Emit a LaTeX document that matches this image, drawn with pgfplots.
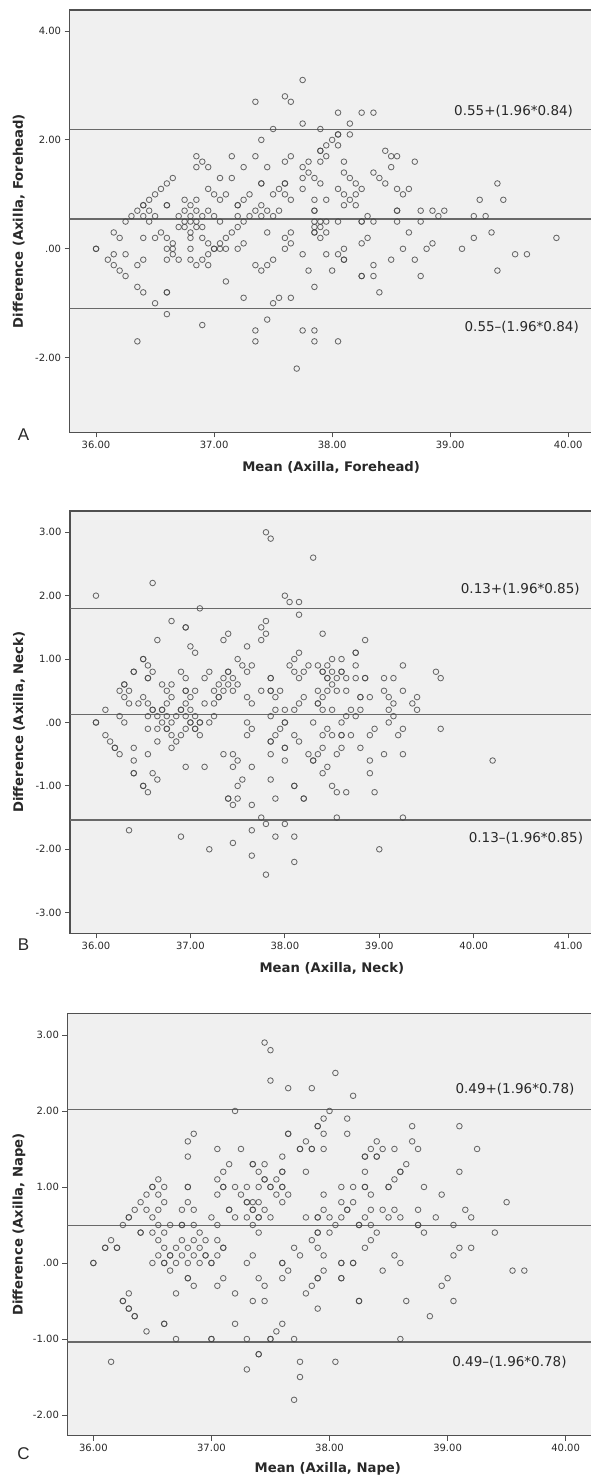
\documentclass[border=0pt]{standalone}
\usepackage{pgfplots}
\pgfplotsset{compat=1.18}
\usepackage{fontspec}
\setmainfont{DejaVu Sans}
\newfontfamily\letterfont{Liberation Sans}

\definecolor{bgcol}{RGB}{240,240,240}
\definecolor{axcol}{RGB}{80,80,80}
\definecolor{lncol}{RGB}{105,105,105}
\definecolor{mkcol}{RGB}{70,70,70}
\definecolor{txtcol}{RGB}{40,40,40}

\pgfplotsset{
  ba/.style={
    scale only axis,
    axis background/.style={fill=bgcol},
    axis line style={draw=axcol, line width=1.2pt},
    tick style={draw=axcol, line width=0.8pt},
    tick align=outside, major tick length=5pt,
    tick pos=left,
    ticklabel style={font=\fontsize{10}{12}\selectfont, text=txtcol},
    label style={font=\bfseries\fontsize{13.2}{16}\selectfont, text=txtcol},
  },
  pts/.style={only marks, mark=o, mark size=2.8pt,
    mark options={draw=mkcol, line width=0.85pt, draw opacity=0.8}},
  lim/.style={no marks, draw=lncol, line width=1.3pt},
}
\tikzset{ann/.style={font=\fontsize{13.5}{16}\selectfont, text=txtcol}}

\begin{document}
\begin{tikzpicture}

% ---------------- A: forehead ----------------
\begin{axis}[ba, at={(69.6pt,1045.7pt)}, anchor=south west,
  width=530.4pt, height=422.3pt,
  xmin=35.776, xmax=40.269, ymin=-3.37, ymax=4.386,
  xtick={36,37,38,39,40}, xticklabels={36.00,37.00,38.00,39.00,40.00},
  ytick={-2,0,2,4}, yticklabels={-2.00,.00,2.00,4.00},
  xlabel={Mean (Axilla, Forehead)}, ylabel={Difference (Axilla, Forehead)},
  xlabel style={at={(axis description cs:0.493,-0.083)}, anchor=center},
  ylabel style={at={(axis description cs:-0.096,0.5)}, anchor=center}]
\addplot[lim] coordinates {(35,2.196) (41,2.196)};
\addplot[lim] coordinates {(35,0.55) (41,0.55)};
\addplot[lim] coordinates {(35,-1.096) (41,-1.096)};
\addplot[pts] coordinates {
(36.00,0.0)(36.00,0.0)(36.10,-0.2)
(36.15,0.3)(36.15,-0.1)(36.15,-0.3)
(36.20,0.2)(36.20,-0.4)
(36.25,0.5)(36.25,-0.1)(36.25,-0.5)
(36.30,0.6)
(36.35,0.7)(36.35,-0.3)(36.35,-0.7)(36.35,-1.7)
(36.40,0.8)(36.40,0.8)(36.40,0.6)(36.40,0.2)(36.40,-0.2)(36.40,-0.8)
(36.45,0.9)(36.45,0.7)(36.45,0.5)
(36.50,1.0)(36.50,0.6)(36.50,0.2)(36.50,-1.0)
(36.55,1.1)(36.55,0.3)
(36.60,1.2)(36.60,0.8)(36.60,0.8)(36.60,0.2)(36.60,0.0)(36.60,-0.2)(36.60,-0.8)(36.60,-0.8)(36.60,-1.2)
(36.65,1.3)(36.65,0.1)(36.65,0.0)(36.65,-0.1)
(36.70,0.6)(36.70,0.4)(36.70,-0.2)
(36.75,0.9)(36.75,0.7)(36.75,0.5)(36.75,0.4)
(36.80,0.8)(36.80,0.6)(36.80,0.5)(36.80,0.3)(36.80,0.2)(36.80,0.0)(36.80,-0.2)
(36.85,1.7)(36.85,1.5)(36.85,0.9)(36.85,0.7)(36.85,0.5)(36.85,0.4)(36.85,-0.3)
(36.90,1.6)(36.90,0.6)(36.90,0.4)(36.90,0.2)(36.90,-0.2)(36.90,-1.4)
(36.95,1.5)(36.95,1.1)(36.95,0.7)(36.95,0.1)(36.95,-0.1)(36.95,-0.3)
(37.00,1.0)(37.00,0.6)(37.00,0.0)(37.00,0.0)
(37.05,1.3)(37.05,0.9)(37.05,0.5)(37.05,0.1)(37.05,0.0)
(37.10,1.0)(37.10,0.2)(37.10,0.0)(37.10,-0.6)
(37.15,1.7)(37.15,1.3)(37.15,0.3)
(37.20,0.8)(37.20,0.8)(37.20,0.6)(37.20,0.4)(37.20,0.0)
(37.25,1.5)(37.25,0.9)(37.25,0.5)(37.25,0.1)(37.25,-0.9)
(37.30,1.0)(37.30,0.6)
(37.35,2.7)(37.35,1.7)(37.35,0.7)(37.35,-0.3)(37.35,-1.5)(37.35,-1.7)
(37.40,2.0)(37.40,1.2)(37.40,1.2)(37.40,0.8)(37.40,0.6)(37.40,-0.4)
(37.45,1.5)(37.45,0.7)(37.45,0.3)(37.45,-0.3)(37.45,-1.3)
(37.50,2.2)(37.50,1.0)(37.50,0.6)(37.50,-0.2)(37.50,-1.0)
(37.55,1.1)(37.55,0.7)(37.55,-0.9)
(37.60,2.8)(37.60,1.6)(37.60,1.2)(37.60,1.2)(37.60,1.0)(37.60,0.2)(37.60,0.0)
(37.65,2.7)(37.65,1.7)(37.65,0.9)(37.65,0.3)(37.65,0.1)(37.65,-0.9)
(37.70,-2.2)
(37.75,3.1)(37.75,2.3)(37.75,1.5)(37.75,1.3)(37.75,1.1)(37.75,-0.1)(37.75,-1.5)
(37.80,1.6)(37.80,1.4)(37.80,-0.4)
(37.85,1.3)(37.85,0.9)(37.85,0.7)(37.85,0.7)(37.85,0.5)(37.85,0.4)(37.85,0.3)(37.85,0.3)(37.85,-0.7)(37.85,-1.5)(37.85,-1.7)
(37.90,2.2)(37.90,1.8)(37.90,1.8)(37.90,1.6)(37.90,1.2)(37.90,0.5)(37.90,0.4)(37.90,0.2)
(37.95,1.9)(37.95,1.7)(37.95,0.9)(37.95,0.5)(37.95,0.3)(37.95,-0.1)
(38.00,2.0)(38.00,-0.4)
(38.05,2.5)(38.05,2.1)(38.05,2.1)(38.05,1.9)(38.05,1.1)(38.05,0.5)(38.05,-0.1)(38.05,-1.7)
(38.10,1.6)(38.10,1.4)(38.10,1.0)(38.10,0.8)(38.10,0.0)(38.10,-0.2)(38.10,-0.2)
(38.15,2.3)(38.15,2.1)(38.15,1.3)(38.15,0.9)
(38.20,1.2)(38.20,1.0)(38.20,0.8)
(38.25,2.5)(38.25,1.1)(38.25,0.5)(38.25,0.5)(38.25,0.1)(38.25,-0.5)(38.25,-0.5)
(38.30,0.6)(38.30,0.2)
(38.35,2.5)(38.35,1.4)(38.35,0.5)(38.35,-0.3)(38.35,-0.5)
(38.40,1.3)(38.40,-0.8)
(38.45,1.8)(38.45,1.2)
(38.50,1.7)(38.50,1.5)(38.50,-0.2)
(38.55,1.7)(38.55,1.1)(38.55,0.7)(38.55,0.7)(38.55,0.5)
(38.60,1.0)(38.60,0.0)
(38.65,1.1)(38.65,0.3)
(38.70,1.6)(38.70,-0.2)
(38.75,0.7)(38.75,0.5)(38.75,-0.5)
(38.80,0.0)(38.85,0.7)(38.85,0.1)(38.90,0.6)(38.95,0.7)
(39.10,0.0)(39.20,0.6)(39.20,0.2)(39.25,0.9)(39.30,0.6)(39.35,0.3)
(39.40,1.2)(39.40,-0.4)(39.45,0.9)
(39.55,-0.1)(39.65,-0.1)(39.90,0.2)
};
\node[ann] at (axis cs:39.537,2.53) {0.55+(1.96*0.84)};
\node[ann] at (axis cs:39.606,-1.438) {0.55--(1.96*0.84)};
\end{axis}

% ---------------- B: neck ----------------
\begin{axis}[ba, at={(70pt,544.7pt)}, anchor=south west,
  width=530pt, height=422.3pt,
  xmin=35.725, xmax=41.337, ymin=-3.325, ymax=3.336,
  xtick={36,37,38,39,40,41}, xticklabels={36.00,37.00,38.00,39.00,40.00,41.00},
  ytick={-3,-2,-1,0,1,2,3}, yticklabels={-3.00,-2.00,-1.00,.00,1.00,2.00,3.00},
  xlabel={Mean (Axilla, Neck)}, ylabel={Difference (Axilla, Neck)},
  xlabel style={at={(axis description cs:0.494,-0.083)}, anchor=center},
  ylabel style={at={(axis description cs:-0.096,0.5)}, anchor=center}]
\addplot[lim] coordinates {(35,1.796) (42,1.796)};
\addplot[lim] coordinates {(35,0.13) (42,0.13)};
\addplot[lim] coordinates {(35,-1.536) (42,-1.536)};
\addplot[pts] coordinates {
(36.00,2.0)(36.00,0.0)(36.00,0.0)
(36.10,0.2)(36.10,-0.2)(36.15,-0.3)
(36.20,-0.4)(36.20,-0.4)
(36.25,0.5)(36.25,0.1)(36.25,-0.5)
(36.30,0.6)(36.30,0.6)(36.30,0.4)(36.30,0.0)
(36.35,0.5)(36.35,0.3)(36.35,-1.7)
(36.40,0.8)(36.40,0.8)(36.40,-0.4)(36.40,-0.6)(36.40,-0.8)(36.40,-0.8)
(36.45,0.3)
(36.50,1.0)(36.50,1.0)(36.50,0.4)(36.50,-1.0)(36.50,-1.0)
(36.55,0.9)(36.55,0.7)(36.55,0.7)(36.55,0.3)(36.55,0.1)(36.55,-0.1)(36.55,-0.5)(36.55,-1.1)
(36.60,2.2)(36.60,0.8)(36.60,0.2)(36.60,0.2)(36.60,-0.8)
(36.65,1.3)(36.65,0.1)(36.65,-0.1)(36.65,-0.3)(36.65,-0.9)
(36.70,0.6)(36.70,0.2)(36.70,0.2)(36.70,0.0)
(36.75,0.5)(36.75,0.3)(36.75,0.1)(36.75,-0.1)(36.75,-0.1)
(36.80,1.6)(36.80,0.6)(36.80,0.4)(36.80,0.0)(36.80,-0.2)(36.80,-0.4)
(36.85,0.1)(36.85,-0.3)
(36.90,0.8)(36.90,0.2)(36.90,0.2)(36.90,-0.2)(36.90,-1.8)
(36.95,1.5)(36.95,1.5)(36.95,0.7)(36.95,0.5)(36.95,0.5)(36.95,0.3)(36.95,0.1)(36.95,-0.1)(36.95,-0.7)
(37.00,1.2)(37.00,0.4)(37.00,0.2)(37.00,0.0)(37.00,0.0)
(37.05,1.1)(37.05,0.5)(37.05,0.1)(37.05,-0.1)(37.05,-0.1)
(37.10,1.8)(37.10,0.0)(37.10,0.0)(37.10,-0.2)
(37.15,0.7)(37.15,0.3)(37.15,-0.7)
(37.20,0.8)(37.20,0.0)(37.20,-2.0)
(37.25,0.5)(37.25,0.3)(37.25,0.1)
(37.30,0.6)(37.30,0.4)(37.30,0.4)
(37.35,1.3)(37.35,0.7)(37.35,0.5)(37.35,-0.5)
(37.40,1.4)(37.40,0.8)(37.40,0.8)(37.40,0.6)(37.40,-1.2)(37.40,-1.2)
(37.45,0.7)(37.45,0.5)(37.45,-0.5)(37.45,-0.7)(37.45,-1.3)(37.45,-1.9)
(37.50,1.0)(37.50,0.6)(37.50,-0.6)(37.50,-1.0)(37.50,-1.2)
(37.55,0.9)(37.55,-0.9)
(37.60,1.2)(37.60,0.8)(37.60,0.4)(37.60,0.0)(37.60,-0.2)
(37.65,0.9)(37.65,0.3)(37.65,-0.1)(37.65,-0.7)(37.65,-1.3)(37.65,-1.7)(37.65,-2.1)
(37.75,1.5)(37.75,1.3)(37.75,0.5)(37.75,-1.5)
(37.80,3.0)(37.80,1.6)(37.80,1.4)(37.80,-1.6)(37.80,-2.4)
(37.85,2.9)(37.85,0.7)(37.85,0.7)(37.85,0.5)(37.85,0.5)(37.85,0.1)(37.85,-0.3)(37.85,-0.3)(37.85,-0.5)(37.85,-0.9)
(37.90,0.4)(37.90,0.2)(37.90,-0.2)(37.90,-1.2)(37.90,-1.8)
(37.95,0.5)(37.95,-0.1)
(38.00,2.0)(38.00,0.2)(38.00,0.0)(38.00,0.0)(38.00,-0.4)(38.00,-0.4)(38.00,-0.6)(38.00,-1.6)
(38.05,1.9)(38.05,0.9)
(38.10,1.0)(38.10,0.8)(38.10,0.2)(38.10,-0.2)(38.10,-1.0)(38.10,-1.0)(38.10,-1.8)(38.10,-2.2)
(38.15,1.9)(38.15,1.7)(38.15,1.1)(38.15,0.7)(38.15,0.3)(38.15,-0.3)
(38.20,0.8)(38.20,0.4)(38.20,-1.2)(38.20,-1.2)
(38.25,0.9)(38.25,-0.5)
(38.30,2.6)(38.30,0.0)(38.30,-0.6)(38.30,-0.6)
(38.35,0.9)(38.35,0.5)(38.35,0.3)(38.35,0.3)(38.35,-0.5)
(38.40,1.4)(38.40,0.8)(38.40,0.8)(38.40,0.4)(38.40,0.2)(38.40,-0.2)(38.40,-0.4)(38.40,-0.8)
(38.45,0.9)(38.45,0.7)(38.45,0.7)(38.45,0.5)(38.45,-0.1)(38.45,-0.7)
(38.50,1.0)(38.50,0.8)(38.50,0.6)(38.50,0.2)(38.50,-0.2)(38.50,-1.0)
(38.55,0.7)(38.55,0.5)(38.55,-0.5)(38.55,-1.1)(38.55,-1.5)
(38.60,1.0)(38.60,0.8)(38.60,0.8)(38.60,0.0)(38.60,-0.2)(38.60,-0.2)(38.60,-0.4)
(38.65,0.7)(38.65,0.5)(38.65,0.1)(38.65,-1.1)
(38.70,0.2)(38.70,-0.2)
(38.75,1.1)(38.75,1.1)(38.75,0.9)(38.75,0.7)(38.75,0.1)
(38.80,0.4)(38.80,0.4)(38.80,0.2)(38.80,-0.4)
(38.85,1.3)(38.85,0.7)(38.85,0.7)
(38.90,0.4)(38.90,-0.2)(38.90,-0.6)(38.90,-0.8)
(38.95,-0.1)(38.95,-1.1)
(39.00,-2.0)
(39.05,0.7)(39.05,0.5)(39.05,-0.5)
(39.10,0.4)(39.10,0.2)(39.10,0.0)
(39.15,0.7)(39.15,0.3)(39.15,0.1)
(39.20,-0.2)
(39.25,0.9)(39.25,0.5)(39.25,-0.1)(39.25,-0.5)(39.25,-1.5)
(39.35,0.3)(39.40,0.4)(39.40,0.2)
(39.60,0.8)(39.65,0.7)(39.65,-0.1)
(40.20,-0.6)
};
\node[ann] at (axis cs:40.493,2.109) {0.13+(1.96*0.85)};
\node[ann] at (axis cs:40.553,-1.834) {0.13--(1.96*0.85)};
\end{axis}

% ---------------- C: nape ----------------
\begin{axis}[ba, at={(67.4pt,42.3pt)}, anchor=south west,
  width=532.6pt, height=422.4pt,
  xmin=35.78, xmax=40.291, ymin=-2.272, ymax=3.285,
  xtick={36,37,38,39,40}, xticklabels={36.00,37.00,38.00,39.00,40.00},
  ytick={-2,-1,0,1,2,3}, yticklabels={-2.00,-1.00,.00,1.00,2.00,3.00},
  xlabel={Mean (Axilla, Nape)}, ylabel={Difference (Axilla, Nape)},
  xlabel style={at={(axis description cs:0.489,-0.0795)}, anchor=center},
  ylabel style={at={(axis description cs:-0.0909,0.5)}, anchor=center}]
\addplot[lim] coordinates {(35,2.019) (41,2.019)};
\addplot[lim] coordinates {(35,0.49) (41,0.49)};
\addplot[lim] coordinates {(35,-1.039) (41,-1.039)};
\addplot[pts] coordinates {
(36.00,0.0)(36.00,0.0)
(36.10,0.2)(36.10,0.2)(36.15,0.3)(36.15,-1.3)
(36.20,0.2)(36.20,0.2)
(36.25,0.5)(36.25,-0.5)(36.25,-0.5)
(36.30,0.6)(36.30,0.6)(36.30,-0.4)(36.30,-0.6)(36.30,-0.6)
(36.35,0.7)(36.35,-0.7)(36.35,-0.7)
(36.40,0.8)(36.40,0.4)(36.40,0.4)
(36.45,0.9)(36.45,0.7)(36.45,-0.9)
(36.50,1.0)(36.50,1.0)(36.50,0.6)(36.50,0.4)(36.50,0.0)
(36.55,1.1)(36.55,0.9)(36.55,0.7)(36.55,0.5)(36.55,0.3)(36.55,0.1)
(36.60,1.0)(36.60,0.8)(36.60,0.4)(36.60,0.2)(36.60,0.0)(36.60,0.0)(36.60,-0.8)(36.60,-0.8)
(36.65,0.5)(36.65,0.1)(36.65,0.1)(36.65,-0.1)
(36.70,0.2)(36.70,0.0)(36.70,-0.4)(36.70,-1.0)
(36.75,0.7)(36.75,0.5)(36.75,0.5)(36.75,0.3)(36.75,0.1)
(36.80,1.6)(36.80,1.4)(36.80,1.0)(36.80,1.0)(36.80,0.8)(36.80,0.2)(36.80,0.0)(36.80,-0.2)(36.80,-0.2)
(36.85,1.7)(36.85,0.7)(36.85,0.5)(36.85,0.3)(36.85,0.1)(36.85,-0.3)
(36.90,0.4)(36.90,0.2)(36.90,0.0)
(36.95,0.3)(36.95,0.1)(36.95,0.1)
(37.00,0.6)(37.00,0.0)(37.00,0.0)(37.00,-1.0)(37.00,-1.0)
(37.05,1.5)(37.05,1.1)(37.05,0.9)(37.05,0.5)(37.05,0.3)(37.05,0.1)(37.05,-0.3)
(37.10,1.2)(37.10,1.0)(37.10,1.0)(37.10,0.2)(37.10,0.2)(37.10,-0.2)
(37.15,1.3)(37.15,0.7)(37.15,0.7)
(37.20,2.0)(37.20,1.0)(37.20,0.6)(37.20,-0.4)(37.20,-0.8)
(37.25,1.5)(37.25,0.9)
(37.30,1.0)(37.30,0.8)(37.30,0.8)(37.30,0.6)(37.30,0.0)(37.30,-1.0)(37.30,-1.4)
(37.35,1.3)(37.35,1.3)(37.35,0.8)(37.35,0.7)(37.35,0.7)(37.35,0.5)(37.35,0.1)(37.35,-0.5)
(37.40,1.2)(37.40,1.0)(37.40,0.8)(37.40,0.6)(37.40,0.6)(37.40,0.4)(37.40,-0.2)(37.40,-1.2)(37.40,-1.2)
(37.45,2.9)(37.45,1.3)(37.45,1.1)(37.45,1.1)(37.45,0.7)(37.45,-0.3)(37.45,-0.5)
(37.50,2.8)(37.50,2.4)(37.50,1.0)(37.50,1.0)(37.50,0.6)(37.50,-1.0)(37.50,-1.0)
(37.55,1.1)(37.55,0.9)(37.55,-0.9)
(37.60,1.4)(37.60,1.2)(37.60,1.2)(37.60,1.0)(37.60,1.0)(37.60,0.8)(37.60,0.0)(37.60,0.0)(37.60,-0.2)(37.60,-0.8)
(37.65,2.3)(37.65,1.7)(37.65,1.7)(37.65,0.9)(37.65,-0.1)
(37.70,0.2)(37.70,-1.0)(37.70,-1.8)
(37.75,1.5)(37.75,1.5)(37.75,0.1)(37.75,-1.3)(37.75,-1.5)
(37.80,1.6)(37.80,1.2)(37.80,0.6)(37.80,-0.4)
(37.85,2.3)(37.85,1.5)(37.85,1.5)(37.85,0.3)(37.85,-0.3)
(37.90,1.8)(37.90,1.8)(37.90,0.6)(37.90,0.6)(37.90,0.4)(37.90,0.4)(37.90,0.2)(37.90,-0.2)(37.90,-0.2)(37.90,-0.6)
(37.95,1.9)(37.95,1.7)(37.95,1.5)(37.95,0.9)(37.95,0.7)(37.95,0.1)(37.95,-0.1)
(38.00,2.0)(38.00,0.6)(38.00,0.4)
(38.05,2.5)(38.05,0.5)(38.05,-1.3)
(38.10,1.0)(38.10,0.8)(38.10,0.6)(38.10,0.0)(38.10,0.0)(38.10,-0.2)(38.10,-0.2)
(38.15,1.9)(38.15,1.7)(38.15,0.7)(38.15,0.7)
(38.20,2.2)(38.20,1.0)(38.20,0.8)(38.20,0.0)(38.20,0.0)
(38.25,0.5)(38.25,0.5)(38.25,-0.5)(38.25,-0.5)
(38.30,1.4)(38.30,1.4)(38.30,1.2)(38.30,1.0)(38.30,1.0)(38.30,0.6)(38.30,0.2)
(38.35,1.5)(38.35,0.9)(38.35,0.7)(38.35,0.5)(38.35,0.3)
(38.40,1.6)(38.40,1.4)(38.40,1.4)(38.40,0.4)
(38.45,1.5)(38.45,0.7)(38.45,-0.1)
(38.50,1.0)(38.50,1.0)(38.50,0.6)
(38.55,1.5)(38.55,1.1)(38.55,0.7)(38.55,0.1)
(38.60,1.2)(38.60,1.2)(38.60,0.6)(38.60,0.0)(38.60,-1.0)
(38.65,1.3)(38.65,-0.5)
(38.70,1.8)(38.70,1.6)
(38.75,1.5)(38.75,0.7)(38.75,0.5)(38.75,0.5)
(38.80,1.0)(38.80,0.4)
(38.85,-0.7)(38.90,0.6)(38.95,0.9)(38.95,-0.3)(39.00,-0.2)
(39.05,0.5)(39.05,0.1)(39.05,-0.5)
(39.10,1.8)(39.10,1.2)(39.10,0.2)
(39.15,0.7)(39.20,0.6)(39.20,0.2)(39.25,1.5)
(39.40,0.4)(39.50,0.8)(39.55,-0.1)(39.65,-0.1)
};
\node[ann] at (axis cs:39.571,2.28) {0.49+(1.96*0.78)};
\node[ann] at (axis cs:39.524,-1.312) {0.49--(1.96*0.78)};
\end{axis}

\node[font=\letterfont\fontsize{17}{20}\selectfont, text=txtcol] at (23.5pt,1043pt) {A};
\node[font=\letterfont\fontsize{17}{20}\selectfont, text=txtcol] at (23.5pt,533pt) {B};
\node[font=\letterfont\fontsize{17}{20}\selectfont, text=txtcol] at (23.5pt,24pt) {C};

\pgfresetboundingbox
\useasboundingbox (0,0) rectangle (590pt,1478pt);
\end{tikzpicture}
\end{document}
